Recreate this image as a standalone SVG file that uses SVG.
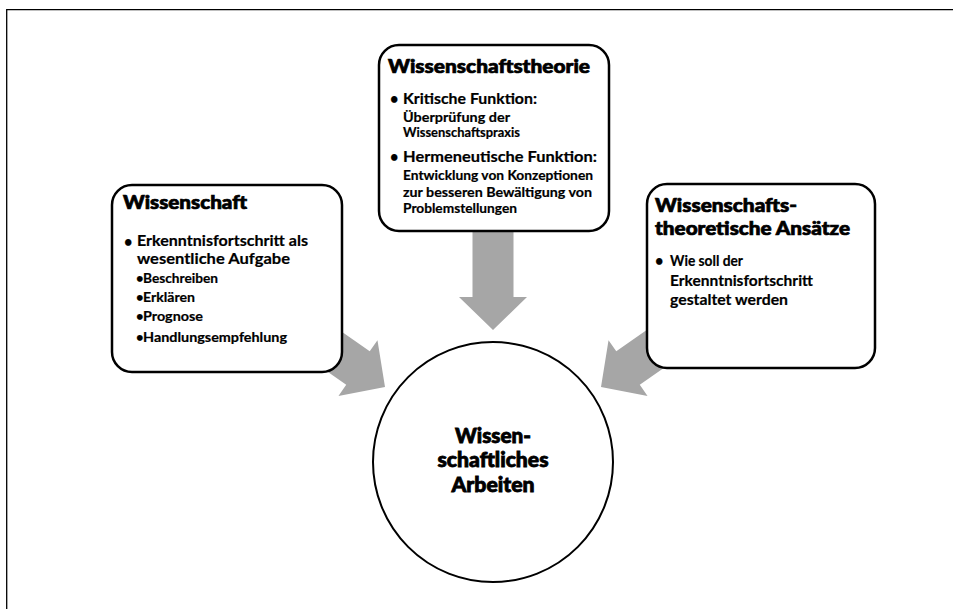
<svg xmlns="http://www.w3.org/2000/svg" width="953" height="609" viewBox="0 0 953 609">
  <defs>
    <style>
      .frame { fill: none; stroke: #000; stroke-width: 1.3; }
      .box { fill: #fff; stroke: #000; stroke-width: 2.5; }
      .arrow { fill: #a6a6a6; stroke: none; }
      text { font-family: Lato, "Open Sans", "Liberation Sans", sans-serif; fill: #000; font-weight: bold; }
      .title { font-size: 18px; font-weight: 900; stroke: #000; stroke-width: 0.7; }
      .main { font-size: 14.5px; stroke: #000; stroke-width: 0.2; }
      .sub { font-size: 13px; stroke: #000; stroke-width: 0.2; }
      .center { font-size: 20px; font-weight: 900; text-anchor: middle; stroke: #000; stroke-width: 0.8; }
    </style>
    <!-- block arrow pointing along +x with its tip at the origin -->
    <polygon id="blockArrow" class="arrow" points="-130,-20.5 -33,-20.5 -33,-34 0,0 -33,34 -33,20.5 -130,20.5"/>
  </defs>

  <rect width="953" height="609" fill="#fff"/>
  <path class="frame" d="M6.7,609 V9.7 H953"/>

  <g id="connectors">
    <use href="#blockArrow" transform="translate(385,387) rotate(35)"/>
    <use href="#blockArrow" transform="translate(493,330) rotate(90)"/>
    <use href="#blockArrow" transform="translate(601,387) rotate(145)"/>
  </g>

  <g id="wissenschaftstheorie">
    <rect class="box" x="379" y="45" width="230" height="186" rx="20"/>
    <text class="title" x="388" y="73" textLength="202" lengthAdjust="spacingAndGlyphs">Wissenschaftstheorie</text>
    <text class="main" x="390" y="104">•</text>
    <text class="main" x="403" y="104" textLength="134" lengthAdjust="spacingAndGlyphs">Kritische Funktion:</text>
    <text class="sub" x="403" y="122" textLength="107" lengthAdjust="spacingAndGlyphs">Überprüfung der</text>
    <text class="sub" x="403" y="137" textLength="117" lengthAdjust="spacingAndGlyphs">Wissenschaftspraxis</text>
    <text class="main" x="390" y="162">•</text>
    <text class="main" x="403" y="162" textLength="194" lengthAdjust="spacingAndGlyphs">Hermeneutische  Funktion:</text>
    <text class="sub" x="403" y="180" textLength="190" lengthAdjust="spacingAndGlyphs">Entwicklung von Konzeptionen</text>
    <text class="sub" x="403" y="197" textLength="189" lengthAdjust="spacingAndGlyphs">zur besseren Bewältigung von</text>
    <text class="sub" x="403" y="213" textLength="114" lengthAdjust="spacingAndGlyphs">Problemstellungen</text>
  </g>

  <g id="wissenschaft">
    <rect class="box" x="112" y="185" width="230" height="187" rx="20"/>
    <text class="title" x="123" y="209" textLength="124" lengthAdjust="spacingAndGlyphs">Wissenschaft</text>
    <text class="main" x="124" y="247">•</text>
    <text class="main" x="137" y="246" textLength="171" lengthAdjust="spacingAndGlyphs">Erkenntnisfortschritt  als</text>
    <text class="main" x="137" y="264" textLength="153" lengthAdjust="spacingAndGlyphs">wesentliche Aufgabe</text>
    <text class="sub" x="136" y="283">•</text>
    <text class="sub" x="143" y="283" textLength="75" lengthAdjust="spacingAndGlyphs">Beschreiben</text>
    <text class="sub" x="136" y="302">•</text>
    <text class="sub" x="143" y="302" textLength="52" lengthAdjust="spacingAndGlyphs">Erklären</text>
    <text class="sub" x="136" y="321">•</text>
    <text class="sub" x="143" y="321" textLength="60" lengthAdjust="spacingAndGlyphs">Prognose</text>
    <text class="sub" x="136" y="342">•</text>
    <text class="sub" x="143" y="342" textLength="144" lengthAdjust="spacingAndGlyphs">Handlungsempfehlung</text>
  </g>

  <g id="wissenschaftstheoretische-ansaetze">
    <rect class="box" x="647" y="184" width="228" height="184" rx="20"/>
    <text class="title" x="655" y="212" textLength="142" lengthAdjust="spacingAndGlyphs">Wissenschafts-</text>
    <text class="title" x="655" y="235" textLength="195" lengthAdjust="spacingAndGlyphs">theoretische Ansätze</text>
    <text class="main" x="655" y="266">•</text>
    <text class="main" x="670" y="266" textLength="73" lengthAdjust="spacingAndGlyphs">Wie soll der</text>
    <text class="main" x="670" y="286" textLength="143" lengthAdjust="spacingAndGlyphs">Erkenntnisfortschritt</text>
    <text class="main" x="670" y="305" textLength="118" lengthAdjust="spacingAndGlyphs">gestaltet werden</text>
  </g>

  <g id="wissenschaftliches-arbeiten">
    <circle cx="493" cy="462" r="120" fill="#fff" stroke="#000" stroke-width="2"/>
    <text class="center" x="493" y="443" textLength="76" lengthAdjust="spacingAndGlyphs">Wissen-</text>
    <text class="center" x="493" y="467" textLength="111" lengthAdjust="spacingAndGlyphs">schaftliches</text>
    <text class="center" x="493" y="492" textLength="83" lengthAdjust="spacingAndGlyphs">Arbeiten</text>
  </g>
</svg>
